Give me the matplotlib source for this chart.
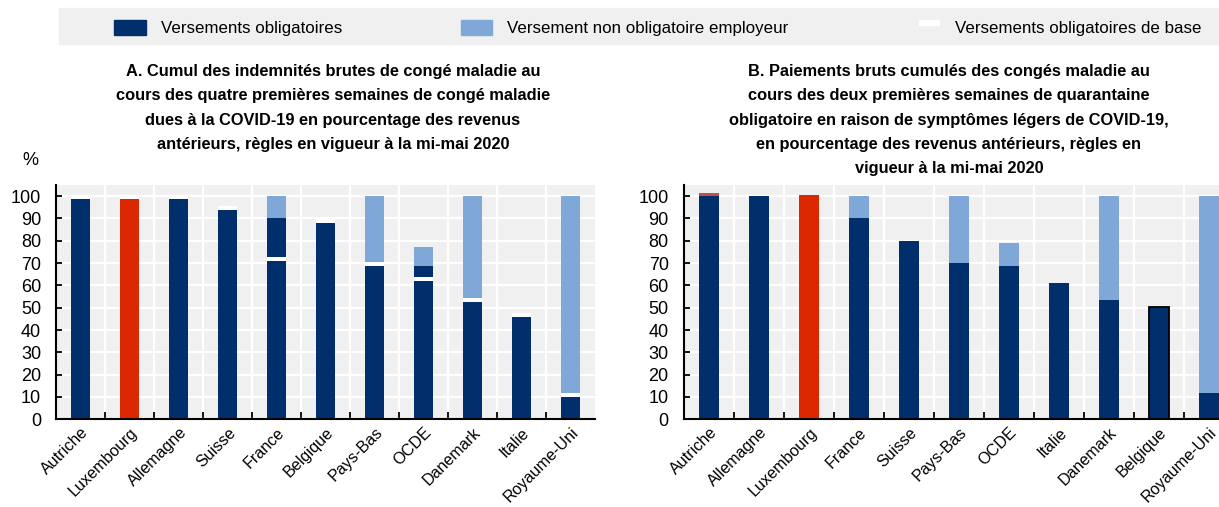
import matplotlib
matplotlib.use('Agg')
import matplotlib.pyplot as plt
from matplotlib import font_manager
from matplotlib.patches import Rectangle
import numpy as np

# police étroite si disponible
names = {f.name for f in font_manager.fontManager.ttflist}
FONT = 'Liberation Sans Narrow' if 'Liberation Sans Narrow' in names else 'Liberation Sans'
plt.rcParams['font.family'] = [FONT, 'DejaVu Sans']

DARK = '#002F6C'
LIGHT = '#7FA8D9'
RED = '#DC2800'
BG = '#F0F0F0'

# Panneau A : quatre premières semaines de congé maladie
a_pays = ['Autriche', 'Luxembourg', 'Allemagne', 'Suisse', 'France', 'Belgique',
          'Pays-Bas', 'OCDE', 'Danemark', 'Italie', 'Royaume-Uni']
a_oblig = [100, 100, 100, 95, 90, 88.5, 69, 68.8, 52.6, 45.8, 12]
a_employeur = [0, 0, 0, 0, 10, 0, 31, 8.4, 47.4, 0, 88]
a_base = [99.6, 99.6, 99.6, 94.7, 72, 88.9, 69.7, 63, 53.3, 46.6, 10.9]

# Panneau B : deux premières semaines de quarantaine obligatoire
b_pays = ['Autriche', 'Allemagne', 'Luxembourg', 'France', 'Suisse', 'Pays-Bas',
          'OCDE', 'Italie', 'Danemark', 'Belgique', 'Royaume-Uni']
b_oblig = [100, 100, 100.3, 90, 80, 70, 68.8, 61, 53.4, 50.2, 12]
b_employeur = [0, 0, 0, 10, 0, 30, 10.3, 0, 46.6, 0, 88]
b_autre = [1.2, 0, 0, 0, 0, 0, 0, 0, 0, 0, 0]

titre_a = ("A. Cumul des indemnités brutes de congé maladie au\n"
           "cours des quatre premières semaines de congé maladie\n"
           "dues à la COVID-19 en pourcentage des revenus\n"
           "antérieurs, règles en vigueur à la mi-mai 2020")
titre_b = ("B. Paiements bruts cumulés des congés maladie au\n"
           "cours des deux premières semaines de quarantaine\n"
           "obligatoire en raison de symptômes légers de COVID-19,\n"
           "en pourcentage des revenus antérieurs, règles en\n"
           "vigueur à la mi-mai 2020")

W, H = 1219, 507
fig = plt.figure(figsize=(W / 100, H / 100), dpi=100)


def px(x0, y0, x1, y1):
    # rectangle en pixels (origine en haut à gauche) -> coordonnées figure
    return [x0 / W, 1 - y1 / H, (x1 - x0) / W, (y1 - y0) / H]


def style_axes(ax, labels):
    n = len(labels)
    ax.set_facecolor(BG)
    ax.set_xlim(-0.5, n - 0.5)
    ax.set_ylim(0, 105)
    ax.set_yticks(range(0, 101, 10))
    ax.set_xticks(np.arange(n))
    ax.set_xticklabels(labels, rotation=45, ha='right', va='top',
                       rotation_mode='anchor', fontsize=11.6)
    ax.set_xticks(np.arange(n - 1) + 0.5, minor=True)
    ax.tick_params(axis='x', which='major', length=0, pad=4)
    ax.tick_params(axis='x', which='minor', direction='in', length=5, width=1.3)
    ax.tick_params(axis='y', direction='in', length=4, width=1.3, labelsize=13, pad=11)
    ax.grid(axis='y', color='white', lw=1.6)
    ax.grid(axis='x', which='minor', color='white', lw=1.6)
    ax.set_axisbelow(True)
    for s in ['top', 'right']:
        ax.spines[s].set_visible(False)
    for s in ['left', 'bottom']:
        ax.spines[s].set_linewidth(1.5)


# --- panneau A
ax1 = fig.add_axes(px(56.4, 185, 595, 419.3))
x = np.arange(len(a_pays))
cols = [RED if p == 'Luxembourg' else DARK for p in a_pays]
ax1.bar(x, a_oblig, width=0.39, color=cols)
ax1.bar(x, a_employeur, width=0.39, bottom=a_oblig, color=LIGHT)
ax1.bar(x, 1.8, width=0.39, bottom=np.array(a_base) - 0.9, color='white')
style_axes(ax1, a_pays)
fig.text(30 / W, 1 - 160 / H, '%', fontsize=13, ha='center', va='center')

# --- panneau B
ax2 = fig.add_axes(px(684, 185, 1234, 419.3))
x = np.arange(len(b_pays))
cols = [RED if p == 'Luxembourg' else DARK for p in b_pays]
edges = ['black' if p == 'Belgique' else 'none' for p in b_pays]
ax2.bar(x, b_oblig, width=0.4, color=cols, edgecolor=edges, linewidth=1.3)
ax2.bar(x, b_employeur, width=0.4, bottom=b_oblig, color=LIGHT)
ax2.bar(x, b_autre, width=0.4, bottom=b_oblig, color='#C0504D')
style_axes(ax2, b_pays)

# titres
fig.text(333 / W, 1 - 64 / H, titre_a, ha='center', va='top', fontsize=11.8,
         fontweight='bold', linespacing=1.78)
fig.text(949 / W, 1 - 64 / H, titre_b, ha='center', va='top', fontsize=11.8,
         fontweight='bold', linespacing=1.78)

# légende commune
fig.patches.append(Rectangle((59 / W, 1 - 44.3 / H), (W - 59) / W, 36.6 / H,
                             transform=fig.transFigure, color=BG, zorder=0))
entrees = [(114, 146, 20, 35, DARK, 161, 'Versements obligatoires'),
           (461, 492, 20, 35, LIGHT, 507, 'Versement non obligatoire employeur'),
           (919, 939, 20, 25, 'white', 955, 'Versements obligatoires de base')]
for x0, x1, y0, y1, c, tx, lab in entrees:
    fig.patches.append(Rectangle((x0 / W, 1 - y1 / H), (x1 - x0) / W, (y1 - y0) / H,
                                 transform=fig.transFigure, color=c, zorder=1))
    fig.text(tx / W, 1 - 28.5 / H, lab, fontsize=12.2, va='center', ha='left')

fig.savefig('out.png', dpi=100)
